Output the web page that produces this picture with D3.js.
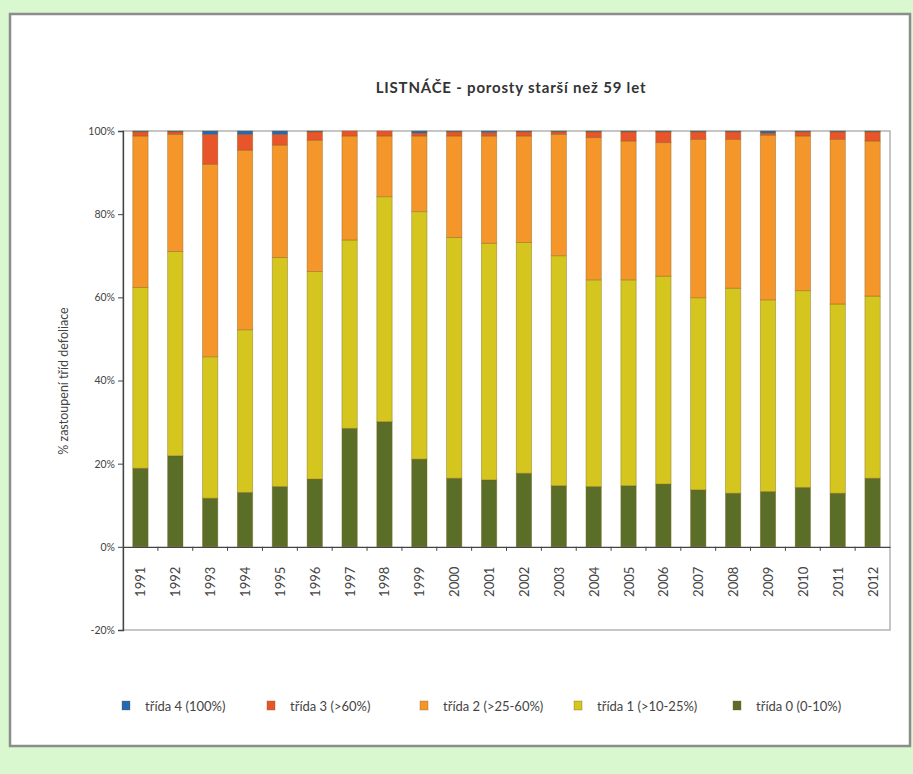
<!DOCTYPE html>
<html>
<head>
<meta charset="utf-8">
<script src="https://cdn.jsdelivr.net/npm/d3@7/dist/d3.min.js"></script>
<style>
  html, body { margin: 0; padding: 0; background: #d9f8cf; }
  svg { display: block; }
  text { font-family: Lato, "Open Sans", sans-serif; }
</style>
</head>
<body>
<svg id="chart" width="913" height="774"></svg>
<script>
// Defoliation class shares (%) of broadleaved stands older than 59 years
const years = ["1991","1992","1993","1994","1995","1996","1997","1998","1999","2000","2001",
               "2002","2003","2004","2005","2006","2007","2008","2009","2010","2011","2012"];
const trida0 = [18.9,21.9,11.7,13.1,14.5,16.3,28.5,30.1,21.1,16.5,16.1,17.7,14.7,14.5,14.7,15.1,13.7,12.9,13.3,14.3,12.9,16.5];
const trida1 = [43.5,49.1,34.0,39.1,55.1,49.9,45.3,54.1,59.5,57.9,56.9,55.5,55.3,49.7,49.5,50.0,46.2,49.3,46.1,47.3,45.5,43.8];
const trida2 = [36.4,28.2,46.3,43.2,27.0,31.6,25.0,14.6,18.2,24.4,25.8,25.6,29.2,34.2,33.4,32.1,38.1,35.8,39.6,37.2,39.6,37.3];
const trida3 = [1.0,0.6,7.2,3.8,2.6,2.0,1.2,1.2,0.7,1.0,0.8,1.0,0.6,1.4,2.2,2.6,1.8,1.8,0.5,1.0,1.8,2.2];
const trida4 = [0.2,0.2,0.8,0.8,0.8,0.2,0.0,0.0,0.5,0.2,0.4,0.2,0.2,0.2,0.2,0.2,0.2,0.2,0.5,0.2,0.2,0.2];
const yTicks = [-20, 0, 20, 40, 60, 80, 100];

const seriesKeys = ["t0","t1","t2","t3","t4"];
const seriesLabels = {
  t4: "třída 4 (100%)",
  t3: "třída 3 (>60%)",
  t2: "třída 2 (>25-60%)",
  t1: "třída 1 (>10-25%)",
  t0: "třída 0 (0-10%)"
};
const seriesColors = { t0: "#5a6e28", t1: "#d4c61e", t2: "#f5962a", t3: "#e8552a", t4: "#2269b8" };

const rows = years.map((y, i) => ({
  year: y, t0: trida0[i], t1: trida1[i], t2: trida2[i], t3: trida3[i], t4: trida4[i]
}));

const svg = d3.select("#chart");

// white panel with grey frame
svg.append("rect").attr("x", 10).attr("y", 14).attr("width", 900).attr("height", 732)
  .attr("fill", "#ffffff").attr("stroke", "#8c8c8c").attr("stroke-width", 2.5);

const plot = { left: 123, right: 890, top: 131, bottom: 630 };

const x = d3.scaleBand().domain(years).range([plot.left, plot.right]).paddingInner(0.56).paddingOuter(0.28);
const y = d3.scaleLinear().domain([-20, 100]).range([plot.bottom, plot.top]);

// plot area frame
svg.append("rect").attr("x", plot.left).attr("y", plot.top)
  .attr("width", plot.right - plot.left).attr("height", plot.bottom - plot.top)
  .attr("fill", "none").attr("stroke", "#a0a0a0").attr("stroke-width", 1.2);

// stacked bars
const stacked = d3.stack().keys(seriesKeys)(rows);
svg.append("g").selectAll("g").data(stacked).join("g")
  .attr("fill", d => seriesColors[d.key])
  .selectAll("rect").data(d => d).join("rect")
  .attr("x", d => x(d.data.year))
  .attr("width", x.bandwidth())
  .attr("y", d => y(d[1]))
  .attr("height", d => Math.max(0, y(d[0]) - y(d[1])))
  .attr("stroke", "#7a5a1a").attr("stroke-opacity", 0.45).attr("stroke-width", 0.8);

// y axis
const yAxis = d3.axisLeft(y).tickValues(yTicks).tickFormat(d => d + "%").tickSize(5).tickPadding(3);
const gy = svg.append("g").attr("transform", `translate(${plot.left},0)`).call(yAxis);
gy.select(".domain").attr("stroke", "#444").attr("stroke-width", 1.3);
gy.selectAll(".tick line").attr("stroke", "#444");
gy.selectAll(".tick text").attr("fill", "#444").style("font-size", "10.5px");

// zero line with category ticks and rotated year labels
const xAxis = d3.axisBottom(x).tickSize(0).tickPadding(0);
const gx = svg.append("g").attr("transform", `translate(0,${y(0)})`).call(xAxis);
gx.select(".domain").attr("stroke", "#444").attr("stroke-width", 1.2);
gx.selectAll(".tick text")
  .attr("fill", "#444").style("font-size", "13px")
  .attr("text-anchor", "middle").attr("dy", null)
  .attr("transform", "translate(0,35) rotate(-90)")
  .attr("dominant-baseline", "central")
  .attr("y", 0);
const step = x.step();
svg.append("g").selectAll("line").data(years.slice(1)).join("line")
  .attr("x1", d => x(d) - (step - x.bandwidth()) / 2)
  .attr("x2", d => x(d) - (step - x.bandwidth()) / 2)
  .attr("y1", y(0)).attr("y2", y(0) + 4)
  .attr("stroke", "#444").attr("stroke-width", 1);

// axis title
svg.append("text")
  .attr("transform", "translate(63,381) rotate(-90)")
  .attr("text-anchor", "middle").attr("dominant-baseline", "central")
  .attr("fill", "#444").style("font-size", "12.5px")
  .text("% zastoupení tříd defoliace");

// chart title
svg.append("text")
  .attr("x", 511).attr("y", 93).attr("text-anchor", "middle")
  .attr("fill", "#333").style("font-size", "15px").style("font-weight", "bold")
  .style("letter-spacing", "0.8px")
  .text("LISTNÁČE - porosty starší než 59 let");

// legend
const legendKeys = ["t4","t3","t2","t1","t0"];
const legendX = [122, 267, 420, 574, 733];
const lg = svg.append("g").selectAll("g").data(legendKeys).join("g")
  .attr("transform", (d, i) => `translate(${legendX[i]},706)`);
lg.append("rect").attr("x", 0).attr("y", -5).attr("width", 8).attr("height", 9)
  .attr("fill", d => seriesColors[d]).attr("stroke", "#7a5a1a").attr("stroke-opacity", 0.35);
lg.append("text").attr("x", 23).attr("y", 0).attr("dominant-baseline", "central")
  .attr("fill", "#444").style("font-size", "13px")
  .text(d => seriesLabels[d]);
</script>
</body>
</html>
